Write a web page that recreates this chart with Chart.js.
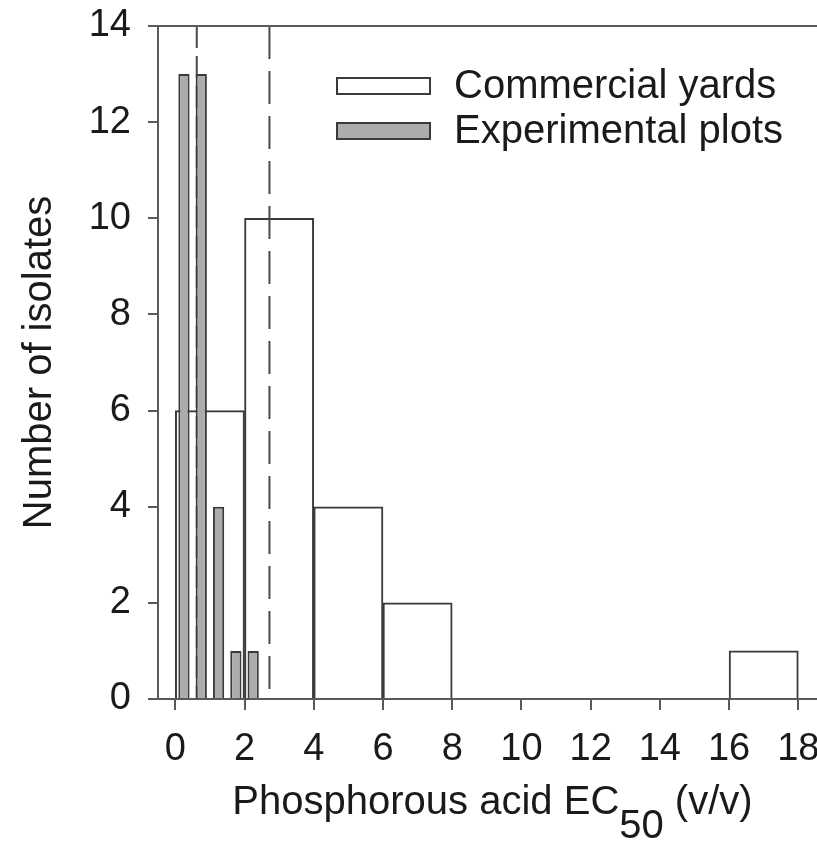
<!DOCTYPE html>
<html>
<head>
<meta charset="utf-8">
<script src="https://cdn.jsdelivr.net/npm/chart.js@4.4.1/dist/chart.umd.min.js"></script>
<style>
  html, body { margin: 0; padding: 0; background: #fff; }
  #wrap { width: 817px; height: 857px; position: relative; }
</style>
</head>
<body>
<div id="wrap"><canvas id="histChart"></canvas></div>
<script>
// histogram data
const xTicks = [0, 2, 4, 6, 8, 10, 12, 14, 16, 18];
const yTicks = [0, 2, 4, 6, 8, 10, 12, 14];
const seriesNames = ['Commercial yards', 'Experimental plots'];
const commercialBins = [1, 3, 5, 7, 17];          // bin centres, width 2
const commercialCounts = [6, 10, 4, 2, 1];
const experimentalBins = [0.25, 0.75, 1.25, 1.75, 2.25]; // bin centres, width 0.5
const experimentalCounts = [13, 13, 4, 1, 1];
const meanEC50 = [0.62, 2.72];                     // dashed reference lines

const FONT = '"Liberation Sans", Arial, Helvetica, sans-serif';
const INK = '#3a3a3a';
const AXIS = '#5a5a5a';

function toPoints(xs, ys) {
  return xs.map((x, i) => ({ x: x, y: ys[i] }));
}

function vline(x, dash) {
  return {
    type: 'line',
    xAxisID: 'x',
    data: [{ x: x, y: yTicks[yTicks.length - 1] }, { x: x, y: 0 }],
    borderColor: '#4a4a4a',
    borderWidth: 2,
    borderDash: dash,
    pointRadius: 0,
    fill: false,
    order: 2
  };
}

// top frame line, legend and the subscripted x title
const extras = {
  id: 'extras',
  afterDraw(chart) {
    const { ctx, chartArea } = chart;
    const ys = chart.scales.y;
    ctx.save();
    ctx.strokeStyle = AXIS;
    ctx.lineWidth = 2;
    ctx.beginPath();
    ctx.moveTo(chartArea.left - 10, ys.getPixelForValue(14));
    ctx.lineTo(chartArea.right, ys.getPixelForValue(14));
    ctx.stroke();

    // legend
    const ds = chart.data.datasets;
    const lx = chartArea.left + 179, ly = [78, 123];
    seriesNames.forEach((name, i) => {
      ctx.fillStyle = ds[i].backgroundColor;
      ctx.strokeStyle = ds[i].borderColor;
      ctx.lineWidth = 2;
      ctx.fillRect(lx, ly[i], 93, 16);
      ctx.strokeRect(lx, ly[i], 93, 16);
      ctx.fillStyle = '#1a1a1a';
      ctx.font = '40px ' + FONT;
      ctx.textBaseline = 'middle';
      ctx.textAlign = 'left';
      ctx.fillText(name, lx + 117, ly[i] + 9);
    });

    // x axis title with subscript
    ctx.fillStyle = '#1a1a1a';
    ctx.font = '40px ' + FONT;
    ctx.textBaseline = 'alphabetic';
    const a = 'Phosphorous acid EC', b = '50', c = ' (v/v)';
    const wa = ctx.measureText(a).width, wb = ctx.measureText(b).width, wc = ctx.measureText(c).width;
    let x0 = (chartArea.left + chartArea.right) / 2 + 5 - (wa + wb + wc) / 2;
    const base = 814;
    ctx.fillText(a, x0, base);
    ctx.fillText(b, x0 + wa, base + 24);
    ctx.fillText(c, x0 + wa + wb, base);
    ctx.restore();
  }
};

new Chart(document.getElementById('histChart'), {
  type: 'bar',
  data: {
    datasets: [
      {
        label: seriesNames[0],
        data: toPoints(commercialBins, commercialCounts),
        xAxisID: 'x',
        grouped: false,
        backgroundColor: '#ffffff',
        borderColor: INK,
        borderWidth: 2,
        categoryPercentage: 1,
        barPercentage: 1,
        order: 3
      },
      {
        label: seriesNames[1],
        data: toPoints(experimentalBins, experimentalCounts),
        xAxisID: 'x2',
        grouped: false,
        backgroundColor: '#acacac',
        borderColor: INK,
        borderWidth: 2,
        categoryPercentage: 1,
        barPercentage: 0.65,
        order: 1
      },
      vline(meanEC50[0], [22, 8]),
      vline(meanEC50[1], [33, 12])
    ]
  },
  options: {
    responsive: true,
    maintainAspectRatio: false,
    animation: false,
    layout: { padding: { top: 26, right: 0, left: 0, bottom: 0 } },
    plugins: {
      legend: { display: false },
      tooltip: { enabled: false }
    },
    scales: {
      x: {
        type: 'linear',
        offset: false,
        min: -0.5,
        max: 18.54,
        afterBuildTicks: axis => { axis.ticks = xTicks.map(v => ({ value: v })); },
        afterFit: scale => { scale.height = 158; scale.paddingLeft = 0; scale.paddingRight = 0; },
        grid: { offset: false, drawOnChartArea: false, drawTicks: true, tickLength: 11, color: AXIS, lineWidth: 2 },
        border: { display: true, color: AXIS, width: 2 },
        ticks: { color: '#1a1a1a', font: { family: FONT, size: 38 }, padding: 17, maxRotation: 0 }
      },
      x2: {
        type: 'linear',
        offset: false,
        display: false,
        min: -0.5,
        max: 18.54,
        grid: { offset: false },
        afterBuildTicks: axis => { axis.ticks = xTicks.map(v => ({ value: v })); }
      },
      y: {
        min: 0,
        max: 14,
        afterBuildTicks: axis => { axis.ticks = yTicks.map(v => ({ value: v })); },
        afterFit: scale => { scale.width = 158; scale.paddingTop = 0; scale.paddingBottom = 0; },
        grid: { drawOnChartArea: false, drawTicks: true, tickLength: 10, color: AXIS, lineWidth: 2 },
        border: { display: true, color: AXIS, width: 2 },
        ticks: { color: '#1a1a1a', font: { family: FONT, size: 38 }, padding: 17 },
        title: {
          display: true,
          text: 'Number of isolates',
          color: '#1a1a1a',
          font: { family: FONT, size: 40 },
          padding: { top: 16, bottom: 0 }
        }
      }
    }
  },
  plugins: [extras]
});
</script>
</body>
</html>
